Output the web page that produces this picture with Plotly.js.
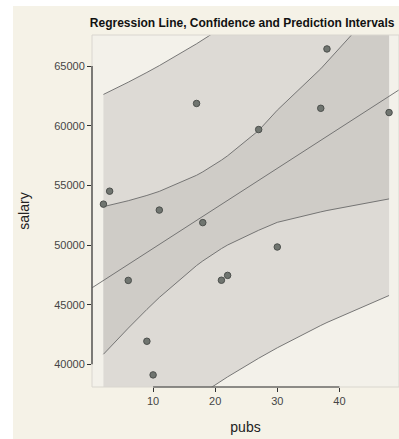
<!DOCTYPE html>
<html>
<head>
<meta charset="utf-8">
<script src="https://cdn.plot.ly/plotly-3.0.1.min.js"></script>
<style>
  html, body { margin: 0; padding: 0; background: #ffffff; width: 399px; height: 439px; overflow: hidden; }
  #chart { position: absolute; left: 13px; top: 6px; width: 386px; height: 433px; overflow: hidden; }
</style>
</head>
<body>
<div id="chart"></div>
<script>
// observed data
var pubs   = [18, 3, 2, 17, 11, 6, 38, 48, 9, 22, 30, 21, 10, 27, 37];
var salary = [51876, 54511, 53425, 61863, 52926, 47034, 66432, 61100, 41934, 47454, 49832, 47047, 39115, 59677, 61458];

// band vertices (x) and interval bounds
var bandX   = [2, 3, 6, 9, 10, 11, 17, 18, 21, 22, 27, 30, 37, 38, 48];
var ciLower = [40842, 41397, 43031, 44602, 45108, 45603, 48279, 48664, 49697, 50000, 51236, 51900, 52776, 52891, 53863];
var ciUpper = [53215, 53331, 53711, 54153, 54318, 54494, 55844, 56130, 57110, 57478, 59597, 61300, 64768, 65323, 71062];
var piLower = [31439, 31860, 33097, 34292, 34680, 35064, 37260, 37608, 38621, 38949, 40509, 41384, 43257, 43506, 45768];
var piUpper = [62618, 62868, 63644, 64463, 64745, 65033, 66863, 67186, 68186, 68529, 70325, 71463, 74287, 74709, 79158];

// fitted regression line end points
var fitX = [0, 52];
var fitY = [46357, 63805];

// axis ticks
var xTicks = [10, 20, 30, 40];
var yTicks = [40000, 45000, 50000, 55000, 60000, 65000];

var lineColor = '#6a6a6a';

function polygon(xs, lo, hi) {
  var px = xs.concat(xs.slice().reverse());
  var py = hi.concat(lo.slice().reverse());
  return {x: px, y: py};
}
var piPoly = polygon(bandX, piLower, piUpper);
var ciPoly = polygon(bandX, ciLower, ciUpper);

var traces = [
  {x: piPoly.x, y: piPoly.y, type: 'scatter', mode: 'lines', fill: 'toself',
   fillcolor: '#dddad5', line: {width: 0}, hoverinfo: 'skip', showlegend: false},
  {x: ciPoly.x, y: ciPoly.y, type: 'scatter', mode: 'lines', fill: 'toself',
   fillcolor: '#cfccc7', line: {width: 0}, hoverinfo: 'skip', showlegend: false},
  {x: bandX, y: piUpper, type: 'scatter', mode: 'lines', line: {color: lineColor, width: 0.9}, showlegend: false},
  {x: bandX, y: piLower, type: 'scatter', mode: 'lines', line: {color: lineColor, width: 0.9}, showlegend: false},
  {x: bandX, y: ciUpper, type: 'scatter', mode: 'lines', line: {color: lineColor, width: 0.9}, showlegend: false},
  {x: bandX, y: ciLower, type: 'scatter', mode: 'lines', line: {color: lineColor, width: 0.9}, showlegend: false},
  {x: fitX, y: fitY, type: 'scatter', mode: 'lines', line: {color: lineColor, width: 0.9}, showlegend: false},
  {x: pubs, y: salary, type: 'scatter', mode: 'markers',
   marker: {size: 6.5, color: '#707570', line: {color: '#4c4f4c', width: 1}}, showlegend: false}
];

var axisFont = {family: 'Arial, "Liberation Sans", sans-serif', size: 11, color: '#454545'};

var layout = {
  width: 386, height: 433,
  margin: {l: 79, r: 0, t: 29, b: 52, pad: 0},
  paper_bgcolor: '#f5f2e7',
  plot_bgcolor: '#f3f1ea',
  font: {family: 'Arial, "Liberation Sans", sans-serif', color: '#222'},
  title: {
    text: '<b>Regression Line, Confidence and Prediction Intervals</b>',
    font: {family: 'Arial, "Liberation Sans", sans-serif', size: 12, color: '#111'},
    xref: 'container', yref: 'container', x: 0.199, xanchor: 'left', y: 0.962, yanchor: 'middle'
  },
  xaxis: {
    range: [0.16, 49.6],
    tickvals: xTicks, ticktext: xTicks.map(String),
    ticks: 'outside', ticklen: 4, tickwidth: 1, tickcolor: '#333',
    showgrid: false, zeroline: false, showline: false,
    tickfont: axisFont,
    title: {text: 'pubs', font: {family: 'Arial, "Liberation Sans", sans-serif', size: 14, color: '#222'}, standoff: 15}
  },
  yaxis: {
    range: [38100, 67600],
    tickvals: yTicks, ticktext: yTicks.map(String),
    ticks: 'outside', ticklen: 4, tickwidth: 1, tickcolor: '#333',
    showgrid: false, zeroline: false, showline: false,
    tickfont: axisFont,
    title: {text: 'salary', font: {family: 'Arial, "Liberation Sans", sans-serif', size: 14, color: '#222'}, standoff: 21}
  },
  shapes: [
    {type: 'rect', xref: 'paper', yref: 'paper', x0: 0, x1: 1, y0: 0, y1: 1,
     line: {color: '#d9d6cf', width: 1}, layer: 'above'},
    {type: 'line', xref: 'x', yref: 'paper', x0: xTicks[0], x1: xTicks[xTicks.length - 1], y0: 0, y1: 0,
     line: {color: '#333', width: 1.2}, layer: 'above'},
    {type: 'line', xref: 'paper', yref: 'y', x0: 0, x1: 0, y0: yTicks[0], y1: yTicks[yTicks.length - 1],
     line: {color: '#333', width: 1.2}, layer: 'above'}
  ],
  showlegend: false
};

Plotly.newPlot('chart', traces, layout, {displayModeBar: false, staticPlot: true});
</script>
</body>
</html>
